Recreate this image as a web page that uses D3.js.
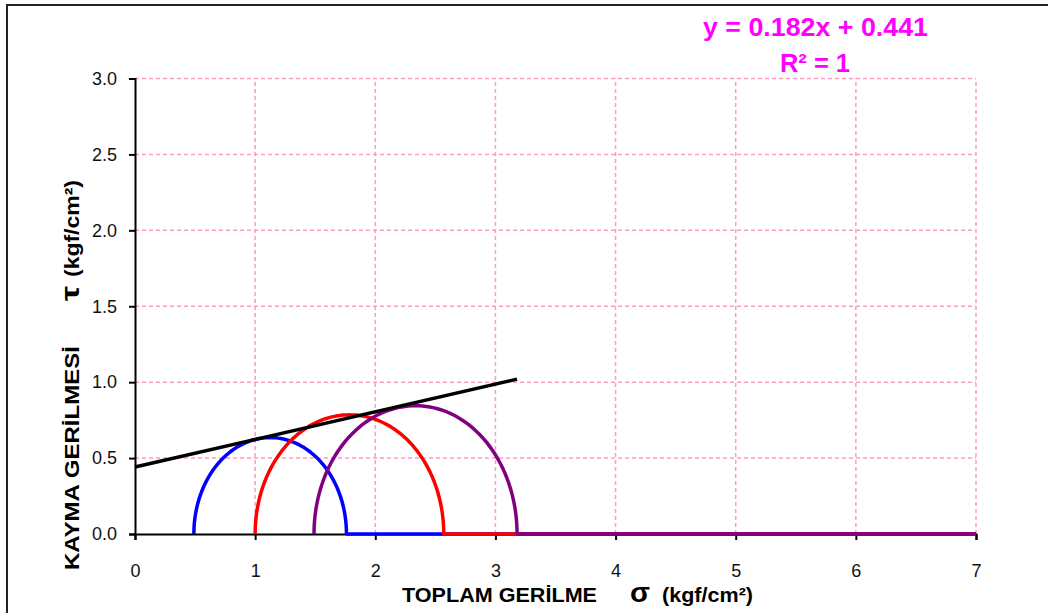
<!DOCTYPE html>
<html>
<head>
<meta charset="utf-8">
<script src="https://cdn.jsdelivr.net/npm/d3@7"></script>
<style>
  html, body { margin: 0; padding: 0; background: #fff; }
  svg { display: block; font-family: "Liberation Sans", Arial, sans-serif; }
</style>
</head>
<body>
<svg id="chart" width="1048" height="613"></svg>
<script>
// Mohr circles: minor / major principal stresses (kgf/cm²)
const sigma3 = [0.49, 1.0, 1.49];
const sigma1 = [1.76, 2.57, 3.18];
const circleColors = ["#0000FF", "#FF0000", "#800080"];

// Failure envelope (linear fit)
const slope = 0.182;
const intercept = 0.441;
const envelopeX = [0, 3.18];

const xTicks = [0, 1, 2, 3, 4, 5, 6, 7];
const yTicks = [0.0, 0.5, 1.0, 1.5, 2.0, 2.5, 3.0];

const svg = d3.select("#chart");
const FONT = "'Liberation Sans', Arial, sans-serif";

// outer frame
svg.append("rect")
  .attr("x", 7).attr("y", 5)
  .attr("width", 1100).attr("height", 700)
  .attr("fill", "none").attr("stroke", "#222").attr("stroke-width", 2);

const x = d3.scaleLinear().domain([0, 7]).range([135, 976]);
const y = d3.scaleLinear().domain([0, 3]).range([534, 78.5]);

// grid
const grid = svg.append("g")
  .attr("stroke", "#FF99CC").attr("stroke-width", 1.5)
  .attr("stroke-dasharray", "4,3");
grid.selectAll("line.v").data(xTicks.slice(1)).join("line")
  .attr("x1", d => x(d)).attr("x2", d => x(d))
  .attr("y1", y(0)).attr("y2", y(3));
grid.selectAll("line.h").data(yTicks.slice(1)).join("line")
  .attr("x1", x(0)).attr("x2", x(7))
  .attr("y1", d => y(d)).attr("y2", d => y(d));

// axes
const xAxis = svg.append("g")
  .attr("transform", `translate(0,${y(0)})`)
  .call(d3.axisBottom(x).tickValues(xTicks).tickFormat(d3.format("d"))
    .tickSizeOuter(0).tickSize(6).tickPadding(24));
const yAxis = svg.append("g")
  .attr("transform", `translate(${x(0)},0)`)
  .call(d3.axisLeft(y).tickValues(yTicks).tickFormat(d3.format(".1f"))
    .tickSizeOuter(0).tickSize(6).tickPadding(12));
[xAxis, yAxis].forEach(a => {
  a.attr("font-size", 18).attr("font-family", FONT);
  a.select(".domain").attr("stroke", "#000").attr("stroke-width", 2);
  a.selectAll(".tick line").attr("stroke", "#000").attr("stroke-width", 2);
  a.selectAll(".tick text").attr("fill", "#111");
});

// Mohr circles, each trailing along the axis to the right edge
const lineGen = d3.line().x(d => x(d[0])).y(d => y(d[1]));
sigma3.forEach((s3, i) => {
  const s1 = sigma1[i];
  const c = (s1 + s3) / 2, r = (s1 - s3) / 2;
  const pts = d3.range(0, 181, 2).map(deg => {
    const t = Math.PI - deg * Math.PI / 180;
    return [c + r * Math.cos(t), r * Math.sin(t)];
  });
  pts.push([7, 0]);
  svg.append("path")
    .attr("d", lineGen(pts))
    .attr("fill", "none")
    .attr("stroke", circleColors[i])
    .attr("stroke-width", 3.5)
    .attr("stroke-linejoin", "round");
});

// envelope
svg.append("path")
  .attr("d", lineGen(envelopeX.map(v => [v, slope * v + intercept])))
  .attr("fill", "none").attr("stroke", "#000").attr("stroke-width", 3.5);

// regression label
const eq = svg.append("g").attr("fill", "#FF00FF").attr("font-weight", "bold")
  .attr("font-size", 26);
eq.append("text").attr("x", 703).attr("y", 36)
  .attr("textLength", 225).attr("lengthAdjust", "spacingAndGlyphs")
  .text(`y = ${slope}x + ${intercept}`);
eq.append("text").attr("x", 780).attr("y", 72)
  .attr("textLength", 70).attr("lengthAdjust", "spacingAndGlyphs")
  .text("R² = 1");

// axis titles
function title(parent, txt, pos, size, len) {
  const t = parent.append("text").attr("x", pos).attr("font-size", size).text(txt);
  if (len) t.attr("textLength", len).attr("lengthAdjust", "spacingAndGlyphs");
  return t;
}
const xt = svg.append("g").attr("transform", "translate(0,602)")
  .attr("font-weight", "bold").attr("fill", "#000");
title(xt, "TOPLAM GERİLME", 402, 21, 195);
title(xt, "σ", 630, 28, 20);
title(xt, "(kgf/cm²)", 662, 21, 91);

const yt = svg.append("g").attr("transform", "translate(79,0) rotate(-90)")
  .attr("font-weight", "bold").attr("fill", "#000");
title(yt, "KAYMA GERİLMESİ", -570, 21, 224);
title(yt, "τ", -301, 26, 15);
title(yt, "(kgf/cm²)", -277, 21, 97);
</script>
</body>
</html>
